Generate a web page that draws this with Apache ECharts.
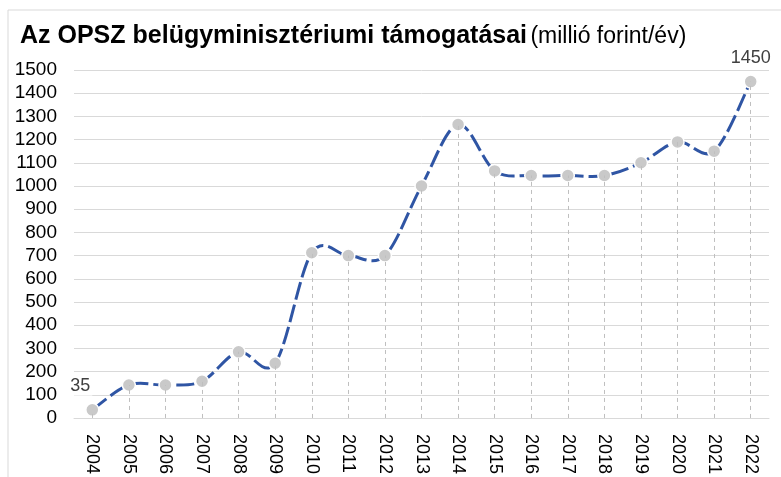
<!DOCTYPE html>
<html>
<head>
<meta charset="utf-8">
<script src="https://cdn.jsdelivr.net/npm/echarts@6/dist/echarts.min.js"></script>
<style>
  html, body { margin: 0; padding: 0; background: #fff; }
  #chart { width: 781px; height: 477px; }
</style>
</head>
<body>
<div id="chart"></div>
<script>
// évek és támogatás (millió forint/év)
const years = ["2004", "2005", "2006", "2007", "2008", "2009", "2010", "2011", "2012", "2013",
  "2014", "2015", "2016", "2017", "2018", "2019", "2020", "2021", "2022"];
const amounts = [35, 142, 142, 158, 285, 236, 712, 700, 700, 1000,
  1265, 1065, 1045, 1045, 1045, 1100, 1190, 1150, 1450];
const labelled = [0, 18]; // felirattal jelölt pontok
const yTicks = { min: 0, max: 1500, interval: 100 };

const font = "'Liberation Sans', Arial, sans-serif";

const seriesData = amounts.map((v, i) => {
  if (!labelled.includes(i)) return v;
  return {
    value: v,
    label: {
      show: true,
      position: "top",
      offset: i === 0 ? [-12, -2] : [0, -1],
      color: "#404040",
      fontSize: 18,
      backgroundColor: "#fff",
      padding: [1, 2]
    }
  };
});

// függőleges szaggatott vonalak a pontoktól a tengelyig
const dropLines = amounts.map((v, i) => [
  { coord: [years[i], 0] },
  { coord: [years[i], v] }
]);

// Excel-szerű simított vonal (Catmull-Rom -> Bezier), a tengely koordinátáiból
function smoothCurve(params, api) {
  if (params.dataIndex !== 0) return null;
  const pts = amounts.map((v, i) => api.coord([i, v]));
  const n = pts.length;
  let d = "M" + pts[0][0] + " " + pts[0][1];
  for (let i = 0; i < n - 1; i++) {
    const p0 = pts[Math.max(i - 1, 0)];
    const p1 = pts[i];
    const p2 = pts[i + 1];
    const p3 = pts[Math.min(i + 2, n - 1)];
    const c1x = p1[0] + (p2[0] - p0[0]) / 6;
    const c1y = p1[1] + (p2[1] - p0[1]) / 6;
    const c2x = p2[0] - (p3[0] - p1[0]) / 6;
    const c2y = p2[1] - (p3[1] - p1[1]) / 6;
    d += " C" + c1x + " " + c1y + " " + c2x + " " + c2y + " " + p2[0] + " " + p2[1];
  }
  return {
    type: "path",
    shape: { pathData: d },
    style: { fill: "none", stroke: "#2f55a4", lineWidth: 3, lineDash: [18, 5] }
  };
}

const option = {
  animation: false,
  textStyle: { fontFamily: font },
  graphic: [
    {
      type: "rect",
      shape: { x: 8, y: 10, width: 800, height: 500 },
      style: { fill: "none", stroke: "#d9d9d9", lineWidth: 1 },
      silent: true
    },
    {
      type: "text",
      left: 20,
      top: 24,
      style: {
        text: "{b|Az OPSZ belügyminisztériumi támogatásai} {n|(millió forint/év)}",
        rich: {
          b: { fontSize: 25, fontWeight: "bold", fontFamily: font, fill: "#000" },
          n: { fontSize: 23, fontFamily: font, fill: "#000" }
        }
      }
    }
  ],
  grid: { left: 74, right: 12, top: 70, bottom: 56, containLabel: false },
  xAxis: {
    type: "category",
    data: years,
    boundaryGap: true,
    axisLine: { lineStyle: { color: "#d9d9d9" } },
    axisTick: { show: false },
    axisLabel: {
      rotate: -90,
      interval: 0,
      margin: 16,
      color: "#000",
      fontSize: 18
    },
    splitLine: { show: false }
  },
  yAxis: {
    type: "value",
    min: yTicks.min,
    max: yTicks.max,
    interval: yTicks.interval,
    axisLine: { show: false },
    axisTick: { show: false },
    axisLabel: { color: "#000", fontSize: 19, margin: 17, formatter: v => String(v) },
    splitLine: { lineStyle: { color: "#d9d9d9", width: 1 } }
  },
  series: [
    {
      type: "custom",
      data: amounts.map((v, i) => [i, v]),
      renderItem: smoothCurve,
      silent: true,
      z: 2
    },
    {
      type: "line",
      data: seriesData,
      symbol: "circle",
      symbolSize: 13,
      itemStyle: { color: "#c9c9c9", borderColor: "#fff", borderWidth: 1.5 },
      lineStyle: { opacity: 0 },
      markLine: {
        silent: true,
        symbol: "none",
        label: { show: false },
        lineStyle: { color: "#bfbfbf", width: 1, type: [4, 4] },
        data: dropLines
      },
      z: 3
    }
  ]
};

const chart = echarts.init(document.getElementById("chart"));
chart.setOption(option);
</script>
</body>
</html>
